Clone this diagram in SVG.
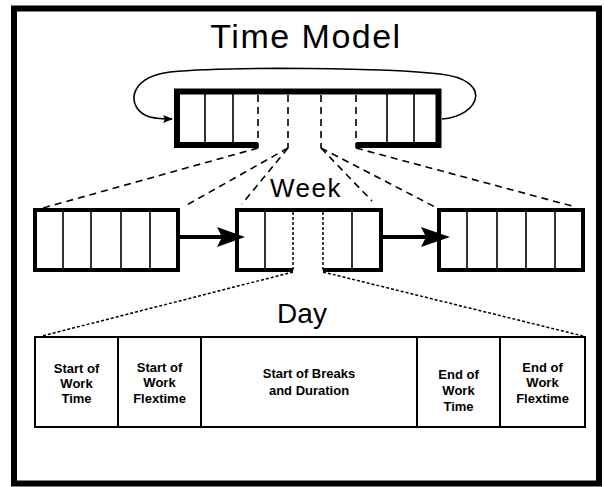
<svg xmlns="http://www.w3.org/2000/svg" width="604" height="487" viewBox="0 0 604 487">
<defs>
<style>
.frame{fill:none;stroke:#000;stroke-width:6}
.thick6{fill:none;stroke:#000;stroke-width:6;stroke-linejoin:miter}
.thick4{fill:none;stroke:#000;stroke-width:4}
.div{stroke:#000;stroke-width:1.6;fill:none}
.dash{stroke:#000;stroke-width:1.6;fill:none;stroke-dasharray:7 5}
.dot{stroke:#000;stroke-width:1.5;fill:none;stroke-dasharray:3 2}
.cell{fill:none;stroke:#000;stroke-width:2}
.title{font-family:"Liberation Sans",Arial,sans-serif;fill:#000;text-anchor:middle}
.lbl{font-family:"Liberation Sans",Arial,sans-serif;font-weight:bold;font-size:13px;fill:#000;text-anchor:middle}
.arrowline{stroke:#000;stroke-width:4;fill:none}
</style>
<marker id="small" markerWidth="10" markerHeight="8" refX="9" refY="4" orient="auto" markerUnits="userSpaceOnUse">
<path d="M0,0 L10,4 L0,8 L2,4 Z" fill="#000"/>
</marker>
</defs>
<rect x="0" y="0" width="604" height="487" fill="#fff"/>
<rect class="frame" x="14" y="8.5" width="585" height="475"/>

<text class="title" x="306" y="48" font-size="34" letter-spacing="1.5">Time Model</text>
<text class="title" x="306" y="197" font-size="26" letter-spacing="1.5">Week</text>
<text class="title" x="302" y="323" font-size="28">Day</text>

<g id="connectors">
<path class="div" d="M442,119 C480,116 494,80 440,74 C390,68 230,66 170,72 C126,77 126,110 150,117 C158,119 164,119 172,119" marker-end="url(#small)"/>
<line class="dash" x1="258" y1="148" x2="43" y2="208"/>
<line class="dash" x1="288" y1="148" x2="185" y2="206"/>
<line class="dash" x1="288" y1="148" x2="242" y2="204"/>
<line class="dash" x1="321" y1="148" x2="372" y2="201"/>
<line class="dash" x1="321" y1="148" x2="437" y2="208"/>
<line class="dash" x1="356" y1="148" x2="572" y2="206"/>
<line class="dot" x1="293" y1="272" x2="42" y2="336"/>
<line class="dot" x1="323" y1="272" x2="583" y2="336"/>
<line class="arrowline" x1="180" y1="237" x2="222" y2="237"/>
<path d="M245,237 L217,227 L222,237 L217,247 Z" fill="#000"/>
<line class="arrowline" x1="383" y1="237" x2="426" y2="237"/>
<path d="M450,237 L421,227 L426,237 L421,247 Z" fill="#000"/>
</g>

<g id="time-model">
<path class="thick6" d="M258,145 L177,145 L177,91.5 L438.5,91.5 L438.5,145 L356,145"/>
<line class="div" x1="205" y1="94" x2="205" y2="142"/>
<line class="div" x1="233" y1="94" x2="233" y2="142"/>
<line class="div" x1="387" y1="94" x2="387" y2="142"/>
<line class="div" x1="414" y1="94" x2="414" y2="142"/>
<line class="dash" x1="258" y1="95" x2="258" y2="148"/>
<line class="dash" x1="288" y1="95" x2="288" y2="148"/>
<line class="dash" x1="321" y1="95" x2="321" y2="148"/>
<line class="dash" x1="356" y1="95" x2="356" y2="148"/>
</g>

<g id="week-left">
<rect class="thick4" x="35" y="210" width="143" height="60"/>
<line class="div" x1="63" y1="212" x2="63" y2="268"/>
<line class="div" x1="91" y1="212" x2="91" y2="268"/>
<line class="div" x1="121" y1="212" x2="121" y2="268"/>
<line class="div" x1="150" y1="212" x2="150" y2="268"/>
</g>

<g id="week-middle">
<path class="thick4" d="M293,270 L237,270 L237,210 L381,210 L381,270 L323,270"/>
<line class="div" x1="265" y1="212" x2="265" y2="268"/>
<line class="div" x1="352" y1="212" x2="352" y2="268"/>
<line class="dot" x1="293" y1="212" x2="293" y2="272"/>
<line class="dot" x1="323" y1="212" x2="323" y2="272"/>
</g>

<g id="week-right">
<rect class="thick4" x="439" y="210" width="144" height="60"/>
<line class="div" x1="467" y1="212" x2="467" y2="268"/>
<line class="div" x1="497" y1="212" x2="497" y2="268"/>
<line class="div" x1="526" y1="212" x2="526" y2="268"/>
<line class="div" x1="555" y1="212" x2="555" y2="268"/>
</g>

<g id="day-start-work-time">
<rect class="cell" x="35" y="337" width="83" height="90"/>
<text class="lbl" x="76.5" y="373">Start of</text>
<text class="lbl" x="76.5" y="388">Work</text>
<text class="lbl" x="76.5" y="403">Time</text>
</g>
<g id="day-start-work-flextime">
<rect class="cell" x="118" y="337" width="83" height="90"/>
<text class="lbl" x="159.5" y="372">Start of</text>
<text class="lbl" x="159.5" y="387">Work</text>
<text class="lbl" x="159.5" y="403">Flextime</text>
</g>
<g id="day-breaks">
<rect class="cell" x="201" y="337" width="216" height="90"/>
<text class="lbl" x="309" y="378">Start of Breaks</text>
<text class="lbl" x="309" y="395">and Duration</text>
</g>
<g id="day-end-work-time">
<rect class="cell" x="417" y="337" width="83" height="90"/>
<text class="lbl" x="458.5" y="379">End of</text>
<text class="lbl" x="458.5" y="395">Work</text>
<text class="lbl" x="458.5" y="411">Time</text>
</g>
<g id="day-end-work-flextime">
<rect class="cell" x="500" y="337" width="85" height="90"/>
<text class="lbl" x="542.5" y="372">End of</text>
<text class="lbl" x="542.5" y="387">Work</text>
<text class="lbl" x="542.5" y="403">Flextime</text>
</g>
</svg>
